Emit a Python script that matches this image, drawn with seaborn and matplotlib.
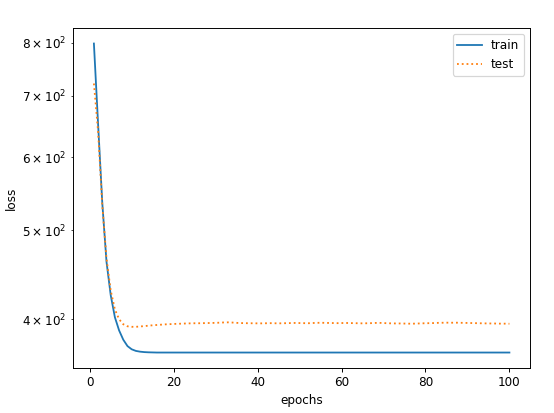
import matplotlib
matplotlib.use('Agg')
import matplotlib.pyplot as plt
import seaborn as sns
import numpy as np
import pandas as pd

# 数据: 每个 epoch 的 loss
epochs = list(range(1, 101))

train_loss = [
    798.0, 652.0, 535.0, 462.0, 425.0, 402.0, 389.0, 380.0, 374.0, 371.0,
    369.5, 368.8, 368.4, 368.2, 368.1, 368.0, 368.0, 368.0, 368.0, 368.0,
    368.0, 368.0, 368.0, 368.0, 368.0, 368.0, 368.0, 368.0, 368.0, 368.0,
    368.0, 368.0, 368.0, 368.0, 368.0, 368.0, 368.0, 368.0, 368.0, 368.0,
    368.0, 368.0, 368.0, 368.0, 368.0, 368.0, 368.0, 368.0, 368.0, 368.0,
    368.0, 368.0, 368.0, 368.0, 368.0, 368.0, 368.0, 368.0, 368.0, 368.0,
    368.0, 368.0, 368.0, 368.0, 368.0, 368.0, 368.0, 368.0, 368.0, 368.0,
    368.0, 368.0, 368.0, 368.0, 368.0, 368.0, 368.0, 368.0, 368.0, 368.0,
    368.0, 368.0, 368.0, 368.0, 368.0, 368.0, 368.0, 368.0, 368.0, 368.0,
    368.0, 368.0, 368.0, 368.0, 368.0, 368.0, 368.0, 368.0, 368.0, 368.0,
]

test_loss = [
    722.0, 640.0, 532.0, 466.0, 430.0, 410.0, 400.0, 395.0, 393.0, 392.5,
    392.5, 392.8, 393.2, 393.6, 394.0, 394.3, 394.6, 394.9, 395.1, 395.3,
    395.5, 395.6, 395.8, 395.9, 396.0, 396.0, 396.1, 396.2, 396.3, 396.4,
    396.6, 396.8, 396.9, 396.7, 396.4, 396.2, 396.1, 396.0, 396.0, 395.9,
    395.9, 396.0, 396.1, 396.0, 395.9, 396.0, 396.1, 396.2, 396.3, 396.2,
    396.1, 396.0, 396.2, 396.4, 396.5, 396.4, 396.3, 396.2, 396.1, 396.2,
    396.3, 396.2, 396.1, 396.0, 395.9, 396.0, 396.1, 396.3, 396.4, 396.2,
    396.0, 395.9, 395.8, 395.8, 395.7, 395.6, 395.6, 395.7, 395.9, 396.0,
    396.1, 396.2, 396.4, 396.5, 396.6, 396.5, 396.6, 396.5, 396.4, 396.3,
    396.2, 396.1, 396.0, 395.9, 395.8, 395.8, 395.7, 395.6, 395.6, 395.5,
]

df = pd.DataFrame({'epochs': epochs, 'train': train_loss, 'test': test_loss})

dpi = 86.5
fig, ax = plt.subplots(figsize=(554 / dpi, 413 / dpi), dpi=dpi)
fig.subplots_adjust(left=0.132, right=0.957, top=0.932, bottom=0.109)

sns.lineplot(data=df, x='epochs', y='train', ax=ax, color='#1f77b4',
             label='train', linewidth=1.5)
sns.lineplot(data=df, x='epochs', y='test', ax=ax, color='#ff7f0e',
             linestyle=':', label='test', linewidth=1.5)

ax.set_yscale('log')
ax.set_xlabel('epochs')
ax.set_ylabel('loss')
ax.legend(loc='upper right')

fig.savefig('out.png', dpi=dpi)
